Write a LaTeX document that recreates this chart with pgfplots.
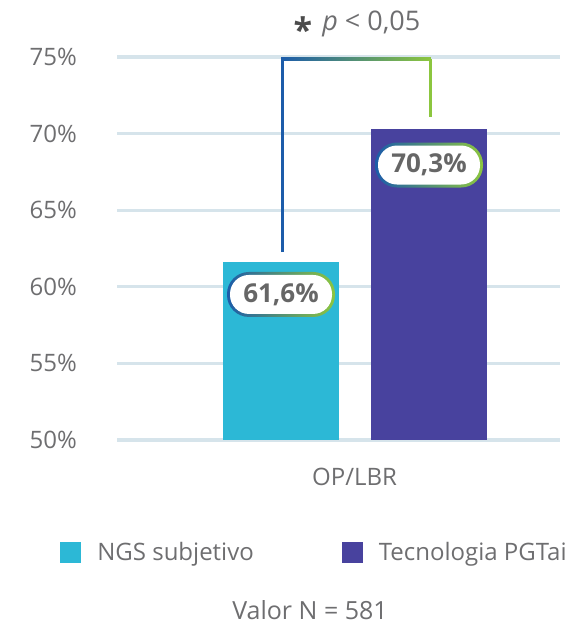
\documentclass[border=0pt]{standalone}
\usepackage{fontspec}
\setmainfont{Open Sans}
\usepackage{pgfplots}
\pgfplotsset{compat=1.18}
\definecolor{ngs}{RGB}{44,184,214}
\definecolor{pgt}{RGB}{72,66,158}
\definecolor{gridc}{RGB}{214,228,235}
\definecolor{txt}{RGB}{110,110,112}
\definecolor{brblue}{RGB}{28,92,170}
\definecolor{brcyan}{RGB}{22,176,216}
\definecolor{brgreen}{RGB}{140,198,63}

\begin{document}
\begin{tikzpicture}
\path[use as bounding box] (0,0) rectangle (288pt,-313pt);
\begin{axis}[at={(58.5pt,-220pt)},anchor=south west,
  scale only axis,width=221.5pt,height=191.5pt,
  xmin=117,xmax=560,ymin=50,ymax=75,
  clip mode=individual,
  axis line style={draw=none},major tick length=0pt,
  ytick={50,55,...,75},yticklabel={\pgfmathprintnumber{\tick}\%},
  xtick={354.5},xticklabels={OP/LBR},
  ymajorgrids,grid style={gridc,line width=1.6pt},
  /pgf/number format/assume math mode=true,
  tick label style={font=\fontsize{12}{14}\selectfont,text=txt},
  yticklabel style={xshift=-16.5pt},
  xticklabel style={yshift=-10.5pt},
  legend style={draw=none,fill=none,at={(0.448,-0.295)},anchor=center,
    legend columns=2,font=\fontsize{12}{14}\selectfont,text=txt,
    /tikz/every even column/.append style={column sep=42pt}},
  legend image code/.code={\fill[#1,draw=none] (0pt,-5.25pt) rectangle (10.5pt,5.25pt);\path (16.5pt,0);},
  legend cell align=left]
\addplot[ybar,bar width=116,bar shift=0pt,fill=ngs,draw=none] coordinates {(280.5,61.6)};
\addplot[ybar,bar width=116,bar shift=0pt,fill=pgt,draw=none] coordinates {(428.5,70.3)};
\legend{NGS subjetivo,Tecnologia PGTai}
% significance bracket
\draw[brblue,line width=1.5pt] (axis cs:282,62.27) -- (axis cs:282,74.85);
\shade[left color=brblue,middle color=brcyan,right color=brgreen] (axis cs:281.2,74.95) rectangle (axis cs:430.8,74.75);
\draw[brgreen,line width=1.5pt] (axis cs:430,74.85) -- (axis cs:430,71.1);
\node[text=txt,font=\fontsize{13.5}{15}\selectfont] at (axis cs:357,76.95)
  {\raisebox{-6pt}{\fontsize{17}{17}\selectfont\bfseries\textcolor{black!70}{*}}\hspace{5pt}\textit{p} < 0,05};
% value labels
\node[rounded corners=11pt,left color=brblue,middle color=brcyan,right color=brgreen,
  minimum width=54pt,minimum height=22.5pt] at (axis cs:281,59.5) {};
\node[rounded corners=9.5pt,fill=white,minimum width=51pt,minimum height=19.5pt,
  text=black!60,font=\fontsize{13}{14}\selectfont\bfseries] at (axis cs:281,59.5) {61,6\%};
\node[rounded corners=11pt,left color=brblue,middle color=brcyan,right color=brgreen,
  minimum width=54pt,minimum height=22.5pt] at (axis cs:429,67.95) {};
\node[rounded corners=9.5pt,fill=white,minimum width=51pt,minimum height=19.5pt,
  text=black!60,font=\fontsize{13}{14}\selectfont\bfseries] at (axis cs:429,67.95) {70,3\%};
\node[text=txt,font=\fontsize{12.5}{14}\selectfont] at (axis cs:310,38.9) {Valor N = 581};
\end{axis}
\end{tikzpicture}
\end{document}
